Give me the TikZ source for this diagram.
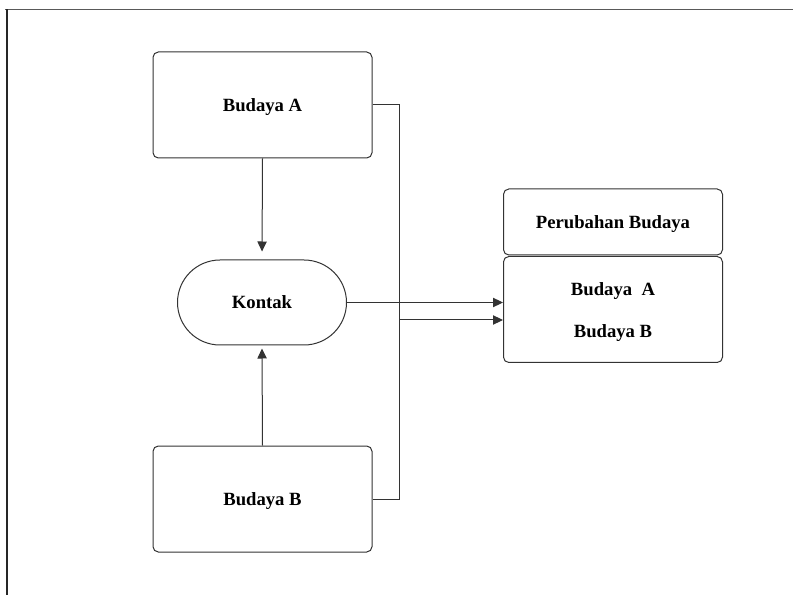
\documentclass[tikz,border=0pt]{standalone}
\usepackage{fontspec}
\setmainfont{Liberation Serif}
\usetikzlibrary{arrows.meta,shapes.misc}
\begin{document}
\begin{tikzpicture}[x=0.75pt,y=-0.75pt,
  line width=0.75pt,
  boxstyle/.style={draw=black!80,rounded corners=4pt,minimum width=219*0.75pt,align=center,
     font=\fontsize{14}{17}\selectfont\bfseries,inner sep=0pt,text height=9.3pt,text depth=0pt},
  pill/.style={draw=black!80,rounded rectangle,minimum width=169*0.75pt,minimum height=85*0.75pt,
     font=\fontsize{14}{17}\selectfont\bfseries,inner sep=0pt,text height=9.3pt,text depth=0pt},
  conn/.style={draw=black!80},
  arr/.style={conn,-{Triangle[length=7.5pt,width=7pt]}}]
\useasboundingbox (0,0) rectangle (793,595);
\fill[white] (0,0) rectangle (793,595);
\draw[black!65,line width=1.1pt] (5,9.5) -- (793,9.5);
\draw[black!85,line width=0.9pt] (7,9.5) -- (7,595);

\node[boxstyle,minimum height=106*0.75pt] (ba) at (262.5,105) {Budaya A};
\node[boxstyle,minimum height=106*0.75pt] (bb) at (262.5,499) {Budaya B};
\node[pill] (kontak) at (262,302.5) {Kontak};
\node[boxstyle,minimum height=66*0.75pt] (pb) at (613,222) {Perubahan Budaya};
\node[boxstyle,minimum height=106*0.75pt,font=\fontsize{14}{31.5}\selectfont\bfseries,
      text height=41.5pt,text depth=0pt] (res) at (613,309.5) {Budaya~~A\\Budaya B};

\coordinate (ttop) at (399,105);
\coordinate (tbot) at (399,499);
\coordinate (tap) at (399,320);

\draw[conn] (ba.east) -- (ttop) -- (tbot) -- (bb.east);
\draw[arr] (tap) -- (res.west |- tap);
\draw[arr] (kontak.east) -- (res.west |- kontak.east);
\draw[arr,shorten >=6pt] (ba.south) -- (kontak.north);
\draw[arr,shorten >=2.25pt] (bb.north) -- (kontak.south);
\end{tikzpicture}
\end{document}
